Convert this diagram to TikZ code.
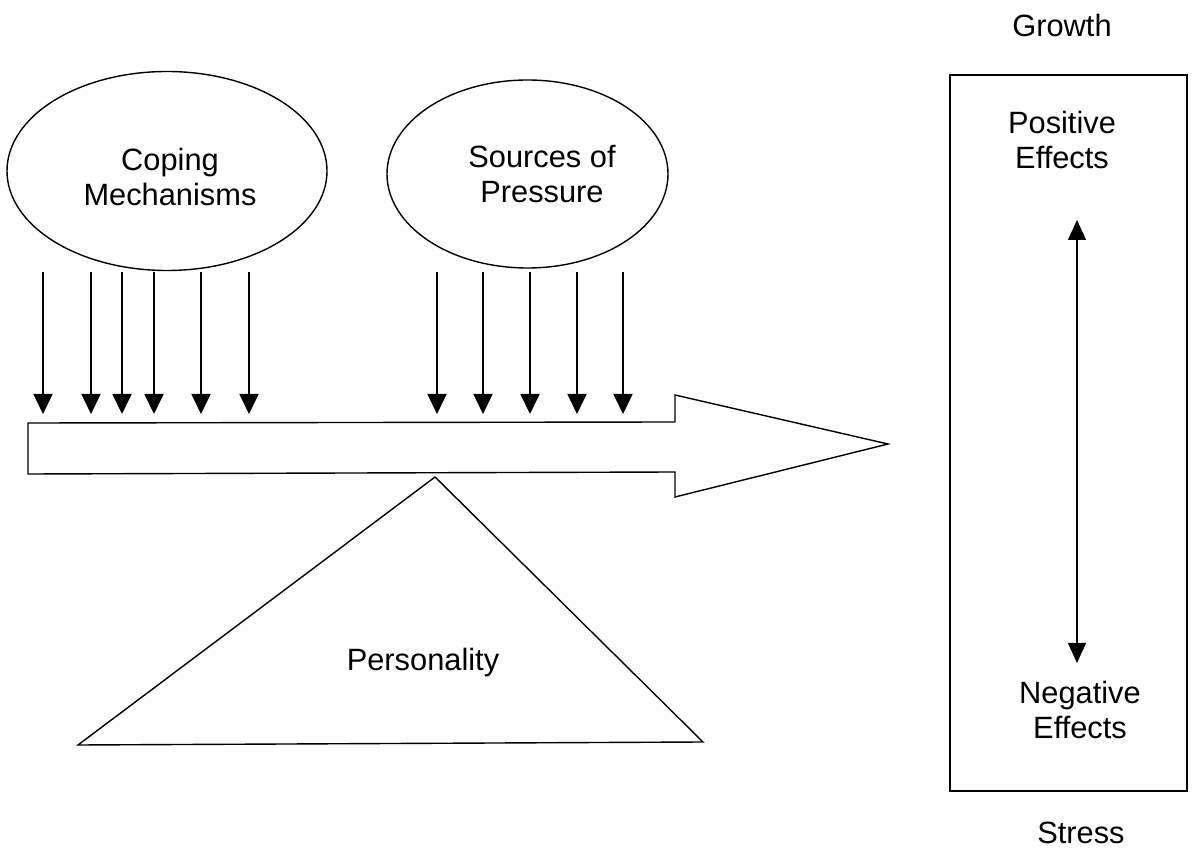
\documentclass[tikz,border=0pt]{standalone}
\usepackage{fontspec}
\setmainfont{Liberation Sans}
\usetikzlibrary{arrows.meta,shapes.geometric}

\tikzset{
  lbl/.style={align=center,font=\fontsize{15.4}{17.5}\selectfont},
  bubble/.style={draw,ellipse,line width=0.7pt,inner sep=0pt},
  push/.style={-{Triangle[length=10pt,width=9.5pt]},line width=0.9pt},
  swing/.style={{Triangle[length=10pt,width=9pt]}-{Triangle[length=10pt,width=9pt]},line width=0.6pt},
}

\begin{document}
\begin{tikzpicture}[x=0.5pt,y=-0.5pt]
\useasboundingbox (0,0) rectangle (1196,850);
\node[bubble,minimum width=160pt,minimum height=99.5pt] (cope) at (167,171) {};
\node[lbl] (copetxt) at (170,177) {Coping\\Mechanisms};
\node[bubble,minimum width=140.5pt,minimum height=94pt] (press) at (527.5,174) {};
\node[lbl] (presstxt) at (542,174) {Sources of\\Pressure};
\foreach \i/\x in {1/43,2/91,3/122,4/154,5/201,6/249,7/437,8/483,9/530,10/577,11/623}{
  \coordinate (s\i) at (\x,272);
  \coordinate (e\i) at (\x,414);
  \draw[push] (s\i) -- (e\i);
}
\coordinate (a1) at (28,423);
\coordinate (a2) at (675,422);
\coordinate (a3) at (675,395);
\coordinate (tip) at (888,444);
\coordinate (a4) at (675,497);
\coordinate (a5) at (675,472);
\coordinate (a6) at (28,474);
\draw[line width=0.7pt,line join=miter] (a1) -- (a2) -- (a3) -- (tip) -- (a4) -- (a5) -- (a6) -- cycle;
\coordinate (apex) at (435,477);
\coordinate (bl) at (78,745);
\coordinate (br) at (703,742);
\draw[line width=0.7pt] (apex) -- (br) -- (bl) -- cycle;
\node[lbl] (pers) at (423,663) {Personality};
\draw[line width=1.4pt] (950,75) rectangle (1187,791);
\node[lbl] (grow) at (1062,25) {Growth};
\node[lbl] (pos) at (1062,140) {Positive\\Effects};
\node[lbl] (neg) at (1080,710) {Negative\\Effects};
\node[lbl] (stress) at (1081,833) {Stress};
\coordinate (up) at (1077,220);
\coordinate (down) at (1077,663);
\draw[swing] (up) -- (down);
\end{tikzpicture}
\end{document}
